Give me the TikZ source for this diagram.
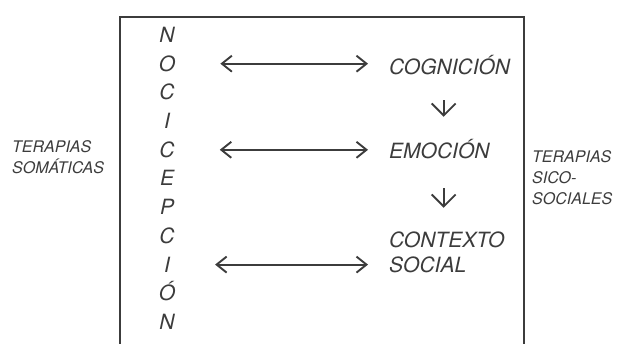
\documentclass[tikz,border=0pt]{standalone}
\usepackage{fontspec}
\setmainfont{TeX Gyre Heros}
\usepackage{tikz}
\usetikzlibrary{arrows.meta, calc}
\definecolor{ink}{HTML}{3C3C3C}
\tikzset{
  big/.style={inner sep=0pt, text height=15pt, text depth=0pt, text=ink,
    font=\fontsize{21}{25}\selectfont\itshape},
  small/.style={inner sep=0pt, align=left, text=ink,
    font=\fontsize{16}{21}\selectfont\itshape},
  dbl/.style={{Straight Barb[length=10pt,width=16pt]}-{Straight Barb[length=10pt,width=16pt]},
    line width=1.9pt, draw=ink},
  down/.style={-{Straight Barb[length=12pt,width=24pt]}, line width=1.9pt, draw=ink}
}

\begin{document}
\begin{tikzpicture}[x=1pt, y=-1pt]
\useasboundingbox (0,0) rectangle (617,344);
\draw[ink, line width=2pt] (120,344) |- (524,17) -- (524,344);
\foreach \c [count=\i] in {N,O,C,I,C,E,P,C,I,Ó,N}
  \node[big] (l\i) at (167, {35+28.7*(\i-1)}) {\c};
\node[big, anchor=west] (cog) at (389,67) {COGNICIÓN};
\node[big, anchor=west] (emo) at (389,151) {EMOCIÓN};
\node[big, anchor=west] (ctx) at (389,240) {CONTEXTO};
\node[big, anchor=west] (soc) at (389,265) {SOCIAL};
\node[small, anchor=west] (som) at (12,157) {TERAPIAS\\SOMÁTICAS};
\node[small, anchor=west] (sico) at (532,178) {TERAPIAS\\SICO-\\SOCIALES};
\foreach \a/\b in {l2/cog, l5/emo, l9/soc}
  \draw[dbl, shorten <=45pt, shorten >=21pt] (\a.east) -- (\a.east -| \b.west);
\draw[down, shorten <=25.5pt, shorten >=26.5pt] ([xshift=-6pt]cog.south) -- ([xshift=-6pt]cog.south |- emo.north);
\draw[down, shorten <=29.5pt, shorten >=24.5pt] ([xshift=-6pt]cog.south |- emo.south) -- ([xshift=-6pt]cog.south |- ctx.north);
\end{tikzpicture}
\end{document}
